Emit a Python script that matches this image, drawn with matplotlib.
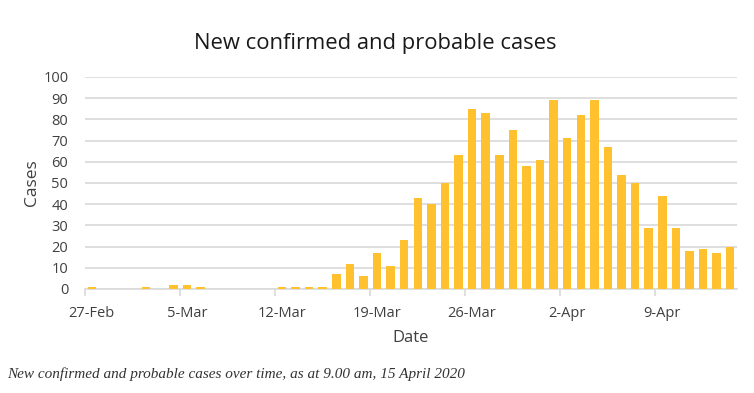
import matplotlib
matplotlib.use("Agg")
import matplotlib.pyplot as plt
import numpy as np
import pandas as pd

dates = pd.date_range("2020-02-27", "2020-04-14", freq="D")
cases = [1, 0, 0, 0, 1, 0, 2, 2, 1, 0, 0, 0, 0, 0,
         1, 1, 1, 1, 7, 12, 6, 17, 11, 23, 43, 40, 50, 63,
         85, 83, 63, 75, 58, 61, 89, 71, 82, 89, 67, 54, 50, 29,
         44, 29, 18, 19, 17, 20]
labels = [d.strftime("%-d-%b") for d in dates]
title = "New confirmed and probable cases"
caption = "New confirmed and probable cases over time, as at 9.00 am, 15 April 2020"

font = ["Open Sans", "DejaVu Sans"]
plt.rcParams["font.family"] = font

fig = plt.figure(figsize=(7.54, 3.93), dpi=100)
ax = fig.add_axes([85/754, 1-289/393, (737-85)/754, (289-77)/393])

x = np.arange(len(cases))
ax.bar(x, cases, width=0.63, color="#FFC12E", zorder=3)

ax.set_xlim(-0.5, len(cases) - 0.5)
ax.set_ylim(0, 100)
ax.set_yticks(np.arange(0, 101, 10))
ax.yaxis.grid(True, color="#D9D9D9", linewidth=1.2, zorder=0)
ax.tick_params(axis="y", length=0, labelsize=10.5, colors="#404040", pad=12)

major = x[::7]
ax.set_xticks(major)
ax.set_xticklabels([labels[i] for i in major])
ax.set_xticks(np.arange(-0.5, len(cases), 7), minor=True)
ax.tick_params(axis="x", which="major", length=0, labelsize=10.5, colors="#404040", pad=12)
ax.tick_params(axis="x", which="minor", length=5, color="#D9D9D9", width=1.2)

for s in ["top", "right", "left"]:
    ax.spines[s].set_visible(False)
ax.spines["bottom"].set_color("#D9D9D9")
ax.spines["bottom"].set_linewidth(1.2)

ax.set_xlabel("Date", fontsize=12, color="#404040", labelpad=7)
ax.set_ylabel("Cases", fontsize=12.5, color="#404040", labelpad=2)

fig.text(375/754, 1-44/393, title, ha="center", va="center", fontsize=15.8, color="#1a1a1a")
fig.text(7/754, 1-374/393, caption, ha="left", va="center", fontsize=11,
         style="italic", family=["Liberation Serif", "DejaVu Serif"], color="#333333")

fig.savefig("out.png", dpi=100)
